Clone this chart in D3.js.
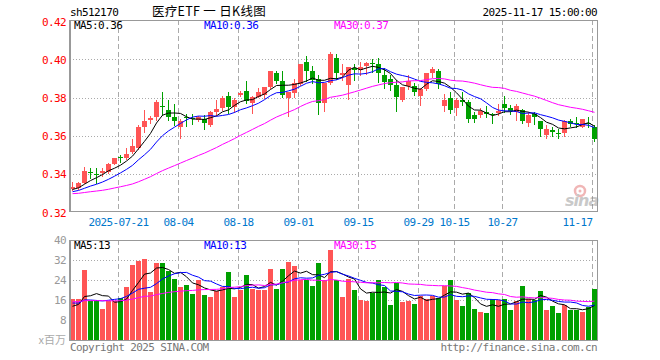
<!DOCTYPE html>
<html><head><meta charset="utf-8">
<script src="https://cdn.jsdelivr.net/npm/d3@7"></script>
<style>
body{margin:0;background:#fff}
svg{display:block}
text{font-family:"DejaVu Sans Mono",monospace;font-size:11px;letter-spacing:-0.6px}
</style>
</head><body>
<svg id="c" width="660" height="360"></svg>
<script>
// ---------- data ----------
const dates = [
"07-09","07-10","07-11","07-14","07-15","07-16","07-17","07-18","07-21","07-22","07-23","07-24","07-25","07-28","07-29","07-30","07-31",
"08-01","08-04","08-05","08-06","08-07","08-08","08-11","08-12","08-13","08-14","08-15","08-18","08-19","08-20","08-21","08-22","08-25","08-26","08-27","08-28","08-29",
"09-01","09-02","09-03","09-04","09-05","09-08","09-09","09-10","09-11","09-12","09-15","09-16","09-17","09-18","09-19","09-22","09-23","09-24","09-25","09-26","09-29","09-30",
"10-09","10-10","10-13","10-14","10-15","10-16","10-17","10-20","10-21","10-22","10-23","10-24","10-27","10-28","10-29","10-30","10-31",
"11-03","11-04","11-05","11-06","11-07","11-10","11-11","11-12","11-13","11-14","11-17"];

const opens = [.3322,.3328,.3351,.3412,.3400,.3403,.3412,.3452,.3487,.3482,
.3513,.3534,.3644,.3681,.3696,.3757,.3735,.3700,.3647,.3698,
.3695,.3682,.3689,.3656,.3726,.3743,.3808,.3752,.3815,.3836,
.3770,.3805,.3813,.3857,.3927,.3886,.3799,.3822,.3871,.3984,
.3939,.3895,.3770,.3874,.4005,.3918,.3866,.3953,.3946,.3967,
.3979,.3974,.3918,.3895,.3866,.3787,.3860,.3860,.3808,.3845,
.3930,.3939,.3756,.3799,.3747,.3790,.3778,.3709,.3709,.3726,
.3714,.3717,.3766,.3745,.3726,.3735,.3668,.3714,.3677,.3603,
.3628,.3617,.3616,.3679,.3665,.3647,.3668,.3644];
const highs = [.3358,.3360,.3438,.3429,.3429,.3429,.3455,.3485,.3502,.3534,
.3583,.3656,.3735,.3703,.3787,.3831,.3787,.3766,.3686,.3714,
.3714,.3703,.3709,.3730,.3787,.3808,.3831,.3799,.3836,.3888,
.3808,.3848,.3857,.3939,.3941,.3939,.3831,.3895,.3976,.4017,
.3965,.3918,.3874,.4037,.4028,.3976,.3958,.3976,.3988,.3988,
.4000,.4005,.3956,.3918,.3892,.3857,.3918,.3878,.3848,.3930,
.3962,.3949,.3818,.3831,.3796,.3831,.3787,.3726,.3744,.3756,
.3717,.3766,.3808,.3761,.3766,.3738,.3726,.3726,.3677,.3656,
.3644,.3633,.3682,.3688,.3696,.3686,.3700,.3656];
const lows = [.3318,.3321,.3351,.3380,.3351,.3387,.3403,.3450,.3464,.3480,
.3510,.3529,.3621,.3665,.3682,.3709,.3682,.3656,.3590,.3653,
.3660,.3675,.3633,.3651,.3709,.3735,.3721,.3726,.3806,.3770,
.3721,.3805,.3800,.3848,.3874,.3805,.3705,.3801,.3866,.3888,
.3878,.3712,.3730,.3871,.3895,.3892,.3792,.3892,.3918,.3926,
.3935,.3883,.3852,.3840,.3730,.3782,.3843,.3813,.3761,.3840,
.3906,.3848,.3730,.3721,.3709,.3761,.3674,.3674,.3696,.3696,
.3665,.3709,.3726,.3714,.3682,.3665,.3651,.3661,.3600,.3590,
.3598,.3590,.3600,.3653,.3644,.3644,.3647,.3572];
const closes = [.3334,.3354,.3415,.3405,.3395,.3417,.3452,.3482,.3484,.3504,
.3546,.3644,.3677,.3691,.3777,.3750,.3700,.3679,.3679,.3691,
.3689,.3700,.3668,.3726,.3738,.3796,.3749,.3787,.3822,.3784,
.3805,.3831,.3853,.3939,.3888,.3813,.3831,.3874,.3976,.3941,
.3892,.3770,.3874,.4028,.3930,.3930,.3958,.3946,.3962,.3979,
.3975,.3927,.3883,.3866,.3801,.3857,.3888,.3831,.3843,.3930,
.3949,.3869,.3787,.3735,.3787,.3778,.3688,.3688,.3730,.3714,
.3709,.3730,.3747,.3730,.3756,.3677,.3709,.3700,.3635,.3635,
.3622,.3613,.3677,.3660,.3660,.3686,.3660,.3583];
// closes of the 29 sessions before the first visible one (for the moving averages)
const priorCloses = [.330,.329,.328,.329,.330,.329,.328,.329,.330,.331,
.330,.329,.328,.329,.329,.330,.329,.328,.329,.330,
.329,.330,.329,.330,.330,.331,.332,.331,.332];
// volume in millions
const volumes = [16.6,16.6,27.9,15.5,16.2,12.5,15.8,15.5,16.8,21.1,
29.9,31.6,32.3,19.1,31.0,31.0,27.6,24.6,21.1,22.2,
18.6,24.0,18.2,17.1,19.8,21.1,27.2,17.1,19.9,26.0,
20.5,20.2,20.2,28.3,20.5,28.3,31.2,29.6,24.2,24.2,
21.5,30.7,24.2,36.0,24.2,17.1,24.5,20.2,16.2,15.8,
18.9,24.0,21.1,14.1,22.9,15.1,15.5,14.5,17.5,16.4,
17.5,16.8,21.5,24.0,15.9,13.5,18.9,12.5,11.4,11.0,
16.6,15.9,16.6,11.9,15.5,21.5,16.4,15.9,19.8,12.1,
13.5,11.0,14.1,11.9,12.1,11.4,13.2,20.6];
const priorVolumes = [14,17,15,16,13,18,15,16,14,17,15,16,16,14,17,15,16,15,16,15.6,
17,15,16,18,14.5,13,12,14,11.9];

const tickDates = ["07-21","08-04","08-18","09-01","09-15","09-29","10-15","10-27","11-17"];
const tickLabels = ["2025-07-21","08-04","08-18","09-01","09-15","09-29","10-15","10-27","11-17"];
const priceTicks = [0.32,0.34,0.36,0.38,0.40,0.42];
const volTicks = [8,16,24,32,40];
const maPeriods = [5,10,30];
const priceLegend = ["MA5:0.36","MA10:0.36","MA30:0.37"];
const volLegend = ["MA5:13","MA10:13","MA30:15"];
const code = "sh512170";
const title = "医疗ETF 一 日K线图";
const stamp = "2025-11-17 15:00:00";

// ---------- layout ----------
const L = 70, R = 597, pTop = 20, pBot = 211, vTop = 240, vBot = 340;
const RED = "#ff5555", GREEN = "#00a000", GRID = "#aaaaaa", FRAME = "#999999";
const maColors = ["#000000", "#0000ff", "#ff00ff"];
const legX = [74, 204, 334];

const svg = d3.select("#c");
const n = dates.length;
const x = d3.scaleLinear().domain([0, n]).range([L, L + 6 * n]);
const cx = i => x(i) + 2.5;
const yP = d3.scaleLinear().domain([0.32, 0.42]).range([212.2, 21.2]);
const yV = d3.scaleLinear().domain([0, 40]).range([vBot, vTop]);

function movingAvg(prior, vals, p) {
  const all = prior.concat(vals);
  const off = prior.length;
  return vals.map((v, i) => d3.mean(all.slice(off + i - p + 1, off + i + 1)));
}

// ---------- grids ----------
const grid = svg.append("g");
[[pTop, pBot], [vTop, vBot]].forEach(([t, b]) => {
  grid.selectAll(null).data(tickDates).enter().append("line")
    .attr("x1", d => Math.round(x(dates.indexOf(d))) + 0.5)
    .attr("x2", d => Math.round(x(dates.indexOf(d))) + 0.5)
    .attr("y1", t).attr("y2", b)
    .attr("stroke", GRID).attr("stroke-dasharray", "5,3")
    .attr("shape-rendering", "crispEdges");
});
grid.selectAll(null).data(priceTicks.slice(1, -1)).enter().append("line")
  .attr("x1", L).attr("x2", R)
  .attr("y1", d => Math.round(yP(d)) + 0.5).attr("y2", d => Math.round(yP(d)) + 0.5)
  .attr("stroke", GRID).attr("stroke-dasharray", "1,2").attr("shape-rendering", "crispEdges");
grid.selectAll(null).data(volTicks.slice(0, -1)).enter().append("line")
  .attr("x1", L).attr("x2", R)
  .attr("y1", d => Math.round(yV(d)) + 0.5).attr("y2", d => Math.round(yV(d)) + 0.5)
  .attr("stroke", GRID).attr("stroke-dasharray", "1,2").attr("shape-rendering", "crispEdges");

// ---------- sina logo ----------
const logo = svg.append("g").attr("opacity", 0.45);
logo.append("circle").attr("cx", 580).attr("cy", 191).attr("r", 5).attr("fill", "none").attr("stroke", "#e06060").attr("stroke-width", 2.5);
logo.append("circle").attr("cx", 580).attr("cy", 191).attr("r", 1.5).attr("fill", "#e06060");
logo.append("text").attr("x", 565).attr("y", 206).text("sina")
  .style("font-family", "DejaVu Sans").style("font-size", "16px").style("font-weight", "bold")
  .style("font-style", "italic").style("letter-spacing", "-1px").attr("fill", "#888");

// ---------- volume bars ----------
svg.append("g").selectAll("rect").data(volumes).enter().append("rect")
  .attr("x", (d, i) => x(i)).attr("width", 5)
  .attr("y", d => Math.round(yV(d))).attr("height", d => vBot - Math.round(yV(d)))
  .attr("fill", (d, i) => closes[i] >= opens[i] ? RED : GREEN)
  .attr("shape-rendering", "crispEdges");

// ---------- candles ----------
const cg = svg.append("g").selectAll("g").data(d3.range(n)).enter().append("g")
  .attr("shape-rendering", "crispEdges");
cg.append("line")
  .attr("x1", i => cx(i)).attr("x2", i => cx(i))
  .attr("y1", i => Math.round(yP(highs[i]))).attr("y2", i => Math.round(yP(lows[i])) + 1)
  .attr("stroke", i => closes[i] >= opens[i] ? RED : GREEN);
cg.append("rect")
  .attr("x", i => x(i)).attr("width", 5)
  .attr("y", i => Math.round(yP(Math.max(opens[i], closes[i]))))
  .attr("height", i => Math.max(1, Math.round(yP(Math.min(opens[i], closes[i]))) - Math.round(yP(Math.max(opens[i], closes[i])))))
  .attr("fill", i => closes[i] >= opens[i] ? RED : GREEN);

// ---------- moving averages ----------
maPeriods.forEach((p, k) => {
  const mp = movingAvg(priorCloses, closes, p);
  svg.append("path").datum(mp)
    .attr("d", d3.line().x((d, i) => cx(i)).y(d => yP(d)))
    .attr("fill", "none").attr("stroke", maColors[k]).attr("stroke-width", 1);
  const mv = movingAvg(priorVolumes, volumes, p);
  svg.append("path").datum(mv)
    .attr("d", d3.line().x((d, i) => cx(i)).y(d => yV(d)))
    .attr("fill", "none").attr("stroke", maColors[k]).attr("stroke-width", 1);
});

// ---------- frames ----------
[[pTop, pBot], [vTop, vBot]].forEach(([t, b]) => {
  svg.append("rect").attr("x", L + 0.5).attr("y", t + 0.5).attr("width", R - L).attr("height", b - t)
    .attr("fill", "none").attr("stroke", FRAME).attr("shape-rendering", "crispEdges");
  svg.append("line").attr("x1", L).attr("x2", L).attr("y1", t).attr("y2", b + 1)
    .attr("stroke", FRAME).attr("stroke-width", 2).attr("shape-rendering", "crispEdges");
});

// ---------- axes ----------
const ax1 = svg.append("g").attr("transform", `translate(${L},0)`)
  .call(d3.axisLeft(yP).tickValues(priceTicks).tickSize(0).tickPadding(4).tickFormat(d3.format(".2f")));
ax1.select(".domain").remove();
ax1.selectAll("text").attr("fill", "#ff0000").attr("font-family", null).attr("font-size", null).attr("dy", "0.36em");

const ax2 = svg.append("g").attr("transform", `translate(${L},0)`)
  .call(d3.axisLeft(yV).tickValues(volTicks).tickSize(0).tickPadding(4));
ax2.select(".domain").remove();
ax2.selectAll("text").attr("fill", "#999999").attr("font-family", null).attr("font-size", null).attr("dy", "0.36em");

const xIdx = tickDates.map(d => dates.indexOf(d));
const ax3 = svg.append("g").attr("transform", `translate(0,${pBot})`)
  .call(d3.axisBottom(x).tickValues(xIdx).tickSize(0).tickPadding(7)
    .tickFormat((d, i) => tickLabels[i]));
ax3.select(".domain").remove();
ax3.selectAll("text").attr("fill", "#0077cc").attr("font-family", null).attr("font-size", null)
  .attr("text-anchor", (d, i) => i === xIdx.length - 1 ? "end" : "middle");
svg.selectAll(".tick line").remove();

// ---------- header / legends / footer ----------
svg.append("text").attr("x", L).attr("y", 16).text(code);
svg.append("text").attr("x", 209).attr("y", 16).attr("text-anchor", "middle").text(title)
  .style("font-family", "'Noto Sans CJK SC'").style("font-size", "12.5px").style("letter-spacing", "0.3px");
svg.append("text").attr("x", R).attr("y", 16).attr("text-anchor", "end").text(stamp);

priceLegend.forEach((t, k) => svg.append("text").attr("x", legX[k]).attr("y", 29).attr("fill", maColors[k]).text(t));
volLegend.forEach((t, k) => svg.append("text").attr("x", legX[k]).attr("y", 249).attr("fill", maColors[k]).text(t));

svg.append("text").attr("x", 66).attr("y", 344).attr("text-anchor", "end").attr("fill", "#aaaaaa")
  .style("font-family", "'Noto Sans CJK SC'").style("font-size", "11px").style("letter-spacing", "0px").text("x百万");
svg.append("text").attr("x", L).attr("y", 351).attr("fill", "#777777").text("Copyright 2025 SINA.COM");
svg.append("text").attr("x", R).attr("y", 351).attr("text-anchor", "end").attr("fill", "#777777").text("http://finance.sina.com.cn");
</script>
</body></html>
